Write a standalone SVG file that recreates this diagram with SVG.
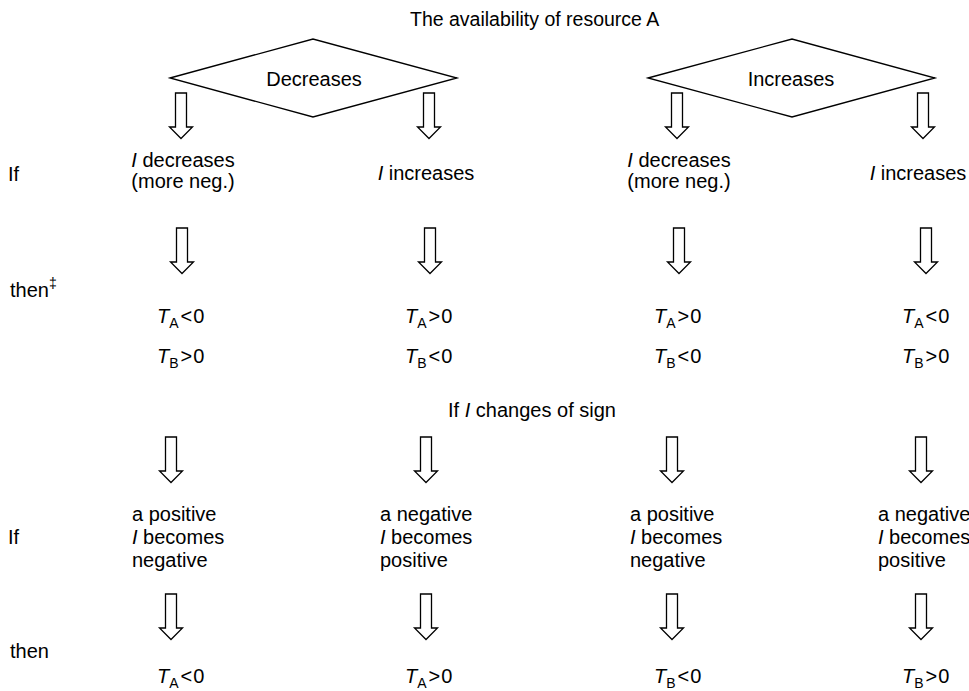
<svg xmlns="http://www.w3.org/2000/svg" width="969" height="691" viewBox="0 0 969 691">
  <style>
    text { font-family: "Liberation Sans", Arial, Helvetica, sans-serif; font-size: 20px; fill: #000; }
    .mid { text-anchor: middle; }
    .shape { fill: #fff; stroke: #000; stroke-width: 1.3; stroke-linejoin: miter; }
    .it { font-style: italic; }
    .sub { font-size: 14px; }
  </style>
  <defs>
    <!-- hollow block arrow pointing down, origin at top centre of the shaft -->
    <path id="down" class="shape" d="M-5.5,0 H5.5 V34 H11.5 L0,45.5 L-11.5,34 H-5.5 Z"/>
  </defs>
  <rect width="969" height="691" fill="#fff"/>

  <g id="title">
    <text x="410" y="26" style="font-size:19.5px">The availability of resource A</text>
  </g>

  <g id="decreases">
    <polygon class="shape" points="170,78 313,39 457,78 313,117"/>
    <text class="mid" x="314" y="86">Decreases</text>
  </g>
  <g id="increases">
    <polygon class="shape" points="648,78 792,39 935,78 792,117"/>
    <text class="mid" x="791" y="86">Increases</text>
  </g>

  <g id="connectors">
    <use href="#down" x="181" y="93"/>
    <use href="#down" x="429" y="93"/>
    <use href="#down" x="677" y="93"/>
    <use href="#down" x="923" y="93"/>

    <use href="#down" x="182" y="228"/>
    <use href="#down" x="430" y="228"/>
    <use href="#down" x="679" y="228"/>
    <use href="#down" x="926" y="228"/>

    <use href="#down" x="171" y="437"/>
    <use href="#down" x="426" y="437"/>
    <use href="#down" x="672" y="437"/>
    <use href="#down" x="921" y="437"/>

    <use href="#down" x="171" y="594"/>
    <use href="#down" x="426" y="594"/>
    <use href="#down" x="672" y="594"/>
    <use href="#down" x="921" y="594"/>
  </g>

  <g id="row-labels">
    <text x="8" y="181">If</text>
    <text x="10" y="297">then<tspan class="sub" dy="-9">‡</tspan></text>
    <text x="8" y="544">If</text>
    <text x="10" y="658">then</text>
  </g>

  <g id="if-change-1">
    <text class="mid" x="183" y="167"><tspan class="it">I</tspan> decreases</text>
    <text class="mid" x="183" y="188">(more neg.)</text>
  </g>
  <g id="if-change-2">
    <text class="mid" x="426" y="180"><tspan class="it">I</tspan> increases</text>
  </g>
  <g id="if-change-3">
    <text class="mid" x="679" y="167"><tspan class="it">I</tspan> decreases</text>
    <text class="mid" x="679" y="188">(more neg.)</text>
  </g>
  <g id="if-change-4">
    <text class="mid" x="918" y="180"><tspan class="it">I</tspan> increases</text>
  </g>

  <g id="then-1">
    <text x="157" y="323"><tspan class="it">T</tspan><tspan class="sub" dy="5">A</tspan><tspan dx="2" dy="-5">&lt;</tspan><tspan dx="1">0</tspan></text>
    <text x="157" y="363"><tspan class="it">T</tspan><tspan class="sub" dy="5">B</tspan><tspan dx="2" dy="-5">&gt;</tspan><tspan dx="1">0</tspan></text>
  </g>
  <g id="then-2">
    <text x="405" y="323"><tspan class="it">T</tspan><tspan class="sub" dy="5">A</tspan><tspan dx="2" dy="-5">&gt;</tspan><tspan dx="1">0</tspan></text>
    <text x="405" y="363"><tspan class="it">T</tspan><tspan class="sub" dy="5">B</tspan><tspan dx="2" dy="-5">&lt;</tspan><tspan dx="1">0</tspan></text>
  </g>
  <g id="then-3">
    <text x="654" y="323"><tspan class="it">T</tspan><tspan class="sub" dy="5">A</tspan><tspan dx="2" dy="-5">&gt;</tspan><tspan dx="1">0</tspan></text>
    <text x="654" y="363"><tspan class="it">T</tspan><tspan class="sub" dy="5">B</tspan><tspan dx="2" dy="-5">&lt;</tspan><tspan dx="1">0</tspan></text>
  </g>
  <g id="then-4">
    <text x="902" y="323"><tspan class="it">T</tspan><tspan class="sub" dy="5">A</tspan><tspan dx="2" dy="-5">&lt;</tspan><tspan dx="1">0</tspan></text>
    <text x="902" y="363"><tspan class="it">T</tspan><tspan class="sub" dy="5">B</tspan><tspan dx="2" dy="-5">&gt;</tspan><tspan dx="1">0</tspan></text>
  </g>

  <g id="sign-change">
    <text class="mid" x="532" y="417">If <tspan class="it">I</tspan> changes of sign</text>
  </g>

  <g id="sign-1">
    <text x="132" y="521">a positive</text>
    <text x="132" y="544"><tspan class="it">I</tspan> becomes</text>
    <text x="132" y="567">negative</text>
  </g>
  <g id="sign-2">
    <text x="380" y="521">a negative</text>
    <text x="380" y="544"><tspan class="it">I</tspan> becomes</text>
    <text x="380" y="567">positive</text>
  </g>
  <g id="sign-3">
    <text x="630" y="521">a positive</text>
    <text x="630" y="544"><tspan class="it">I</tspan> becomes</text>
    <text x="630" y="567">negative</text>
  </g>
  <g id="sign-4">
    <text x="878" y="521">a negative</text>
    <text x="878" y="544"><tspan class="it">I</tspan> becomes</text>
    <text x="878" y="567">positive</text>
  </g>

  <g id="result-1">
    <text x="157" y="683"><tspan class="it">T</tspan><tspan class="sub" dy="5">A</tspan><tspan dx="2" dy="-5">&lt;</tspan><tspan dx="1">0</tspan></text>
  </g>
  <g id="result-2">
    <text x="405" y="683"><tspan class="it">T</tspan><tspan class="sub" dy="5">A</tspan><tspan dx="2" dy="-5">&gt;</tspan><tspan dx="1">0</tspan></text>
  </g>
  <g id="result-3">
    <text x="654" y="683"><tspan class="it">T</tspan><tspan class="sub" dy="5">B</tspan><tspan dx="2" dy="-5">&lt;</tspan><tspan dx="1">0</tspan></text>
  </g>
  <g id="result-4">
    <text x="902" y="683"><tspan class="it">T</tspan><tspan class="sub" dy="5">B</tspan><tspan dx="2" dy="-5">&gt;</tspan><tspan dx="1">0</tspan></text>
  </g>
</svg>
